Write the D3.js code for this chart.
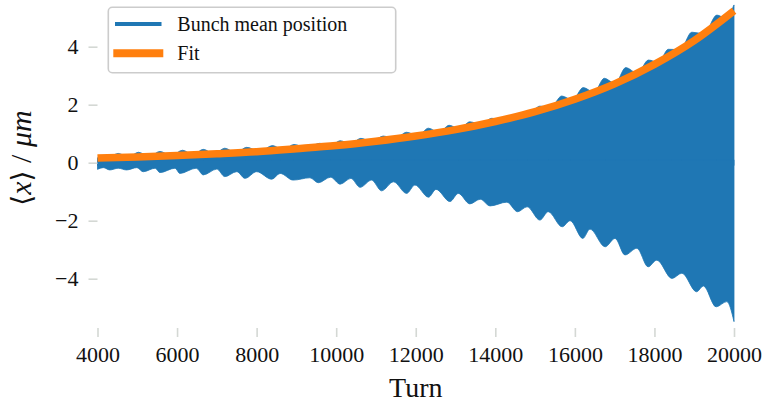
<!DOCTYPE html>
<html>
<head>
<meta charset="utf-8">
<script src="https://cdn.jsdelivr.net/npm/d3@7"></script>
<style>
  html, body { margin: 0; padding: 0; background: #fff; }
  svg { display: block; }
</style>
</head>
<body>
<svg id="chart" width="764" height="405"></svg>
<script>
// ---- data ----
// lower envelope of the bunch mean position (turn, value in um)
const lowerTurns = [4000,4150,4310,4520,4730,4990,5150,5450,5570,5950,6070,6480,6660,7000,7200,7500,7710,8000,8380,8590,8920,9340,9550,9860,10100,10370,10600,10890,11140,11440,11770,11980,12320,12510,12860,13070,13360,13620,13870,14290,14560,14800,15120,15330,15680,15880,16200,16380,16760,17010,17260,17560,17840,18060,18440,18690,19060,19230,19550,19820,20000];
const lowerVals  = [-0.23,-0.17,-0.25,-0.19,-0.25,-0.17,-0.31,-0.19,-0.34,-0.19,-0.37,-0.19,-0.42,-0.22,-0.48,-0.31,-0.54,-0.31,-0.57,-0.37,-0.60,-0.52,-0.69,-0.50,-0.74,-0.54,-0.85,-0.60,-0.97,-0.66,-1.06,-0.77,-1.19,-0.92,-1.34,-1.06,-1.42,-1.26,-1.49,-1.36,-1.69,-1.52,-1.98,-1.69,-2.21,-2.00,-2.61,-2.29,-2.90,-2.61,-3.18,-2.95,-3.59,-3.36,-3.99,-3.81,-4.45,-4.25,-4.97,-4.79,-5.48];
// upper envelope (bumps and the valleys hidden under the fit)
const upperTurns = [4000,4260,4520,4780,5030,5300,5570,5850,6140,6400,6660,6930,7200,7480,7750,8080,8400,8670,8940,9270,9590,9850,10100,10360,10620,10900,11180,11480,11770,12050,12320,12580,12840,13100,13360,13640,13910,14250,14600,14860,15120,15400,15670,15940,16210,16480,16740,17010,17280,17570,17850,18100,18350,18650,18940,19250,19570,19780,20000];
const upperVals  = [0.17,0.17,0.32,0.19,0.36,0.21,0.39,0.24,0.43,0.27,0.46,0.30,0.50,0.34,0.53,0.39,0.59,0.44,0.63,0.50,0.67,0.57,0.76,0.64,0.84,0.72,0.92,0.82,1.05,0.93,1.19,1.04,1.29,1.16,1.41,1.31,1.53,1.50,1.70,1.71,1.95,1.92,2.30,2.16,2.59,2.43,2.91,2.73,3.28,3.08,3.54,3.46,3.91,3.90,4.50,4.45,5.09,4.99,5.44];
// exponential fit
const fitTurns = [4000,5000,6000,7000,8000,9000,10000,11000,12000,13000,14000,15000,16000,17000,18000,19000,20000];
const fitVals  = [0.16,0.20,0.25,0.31,0.38,0.48,0.59,0.74,0.92,1.14,1.42,1.76,2.19,2.72,3.39,4.21,5.24];
// axes
const xTicks = [4000,6000,8000,10000,12000,14000,16000,18000,20000];
const yTicks = [-4,-2,0,2,4];
const seriesNames = ["Bunch mean position", "Fit"];
const colors = ["#1f77b4", "#ff7f0e"];

// ---- drawing ----
const svg = d3.select("#chart");
const FONT = "'Liberation Serif', 'DejaVu Serif', serif";

const x = d3.scaleLinear().domain([4000, 20000]).range([97.5, 734]);
const y = d3.scaleLinear().domain([-5.7, 5.6]).range([328, 0.3]);

const upperPts = upperTurns.map((t, i) => [t, upperVals[i]]);
const lowerPts = lowerTurns.map((t, i) => [t, lowerVals[i]]);
const fitPts = fitTurns.map((t, i) => [t, fitVals[i]]);

// blue band drawn as two overlapping areas meeting around zero
const upArea = d3.area()
  .x(d => x(d[0])).y0(y(-0.1)).y1(d => y(d[1]))
  .curve(d3.curveMonotoneX);
const lowArea = d3.area()
  .x(d => x(d[0])).y0(y(0.1)).y1(d => y(d[1]))
  .curve(d3.curveMonotoneX);

svg.append("path").datum(upperPts).attr("d", upArea)
  .attr("fill", colors[0]).attr("stroke", colors[0]).attr("stroke-width", 0.8);
svg.append("path").datum(lowerPts).attr("d", lowArea)
  .attr("fill", colors[0]).attr("stroke", colors[0]).attr("stroke-width", 0.8);

// fit line
const fitLine = d3.line().x(d => x(d[0])).y(d => y(d[1])).curve(d3.curveMonotoneX);
svg.append("path").datum(fitPts).attr("d", fitLine)
  .attr("fill", "none").attr("stroke", colors[1]).attr("stroke-width", 7.5);

// axes
const tickColor = "#d4d8d4";
const gx = svg.append("g").attr("transform", "translate(0,328)")
  .call(d3.axisBottom(x).tickValues(xTicks).tickFormat(d3.format("d")).tickSize(9).tickPadding(9));
const gy = svg.append("g").attr("transform", "translate(97.5,0)")
  .call(d3.axisLeft(y).tickValues(yTicks).tickSize(9).tickPadding(10));
[gx, gy].forEach(g => {
  g.select(".domain").remove();
  g.selectAll(".tick line").attr("stroke", tickColor).attr("stroke-width", 1.6);
  g.selectAll(".tick text").attr("fill", "#111").style("font-family", FONT).style("font-size", "22px");
});

// axis titles
svg.append("text").attr("x", 415.75).attr("y", 396.5).attr("text-anchor", "middle")
  .style("font-family", FONT).style("font-size", "28px").attr("fill", "#111").text("Turn");

const yl = svg.append("text")
  .attr("transform", "translate(31,158) rotate(-90)")
  .attr("text-anchor", "middle")
  .style("font-family", FONT).style("font-size", "30px").attr("fill", "#111");
yl.append("tspan").style("font-family", "'DejaVu Serif', serif").style("font-size", "28px").text("\u27E8");
yl.append("tspan").style("font-style", "italic").text("x");
yl.append("tspan").style("font-family", "'DejaVu Serif', serif").style("font-size", "28px").text("\u27E9");
yl.append("tspan").text(" / ");
yl.append("tspan").style("font-style", "italic").text("\u03BCm");

// legend
const lg = svg.append("g");
lg.append("rect").attr("x", 108.3).attr("y", 7.3).attr("width", 287.4).attr("height", 65.4)
  .attr("rx", 4).attr("fill", "#fff").attr("fill-opacity", 0.8)
  .attr("stroke", "#cccccc").attr("stroke-width", 1.6);
const legendRows = [
  {name: seriesNames[0], color: colors[0], w: 4, y: 24, x1: 115, x2: 161.5},
  {name: seriesNames[1], color: colors[1], w: 8, y: 53.3, x1: 113.3, x2: 163.3}
];
legendRows.forEach(r => {
  lg.append("line").attr("x1", r.x1).attr("x2", r.x2).attr("y1", r.y).attr("y2", r.y)
    .attr("stroke", r.color).attr("stroke-width", r.w);
  lg.append("text").attr("x", 177.3).attr("y", r.y + 7)
    .style("font-family", FONT).style("font-size", "20px").attr("fill", "#111").text(r.name);
});
</script>
</body>
</html>
